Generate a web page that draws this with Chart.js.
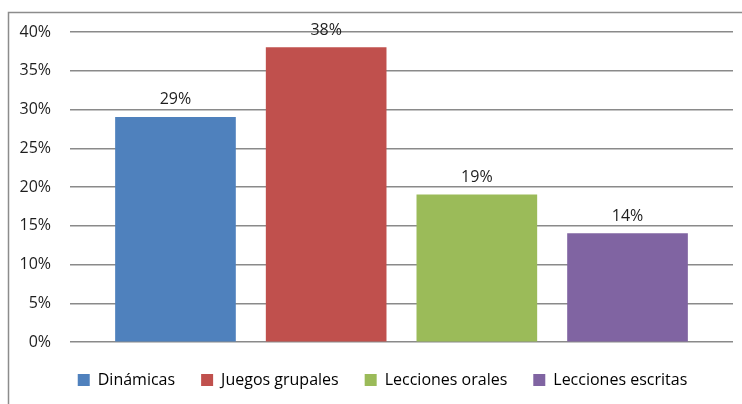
<!DOCTYPE html>
<html>
<head>
<meta charset="utf-8">
<script src="https://cdn.jsdelivr.net/npm/chart.js@4"></script>
<style>
  body { margin: 0; background: #fff; }
</style>
</head>
<body>
<canvas id="chart" width="742" height="404"></canvas>
<script>
// Categories and values (percent)
const categories = ['Dinámicas', 'Juegos grupales', 'Lecciones orales', 'Lecciones escritas'];
const values = [29, 38, 19, 14];
const barColors = ['#4F81BD', '#C0504D', '#9BBB59', '#8064A2'];
const yTicks = [0, 5, 10, 15, 20, 25, 30, 35, 40];

const fontFamily = '"Open Sans", Lato, sans-serif';
const textColor = '#1e1e1e';
const gridColor = '#8a8a8a';

// frame of the chart area (left and top edge only are visible)
const framePlugin = {
  id: 'frame',
  beforeDraw(chart) {
    const ctx = chart.ctx;
    ctx.save();
    ctx.strokeStyle = '#8c8c8c';
    ctx.lineWidth = 1.5;
    ctx.beginPath();
    ctx.moveTo(8.5, chart.height);
    ctx.lineTo(8.5, 12.5);
    ctx.lineTo(chart.width, 12.5);
    ctx.stroke();
    ctx.restore();
  }
};

// value labels above each bar
const valueLabels = {
  id: 'valueLabels',
  afterDatasetsDraw(chart) {
    const ctx = chart.ctx;
    const meta = chart.getDatasetMeta(0);
    ctx.save();
    ctx.font = '16px ' + fontFamily;
    ctx.fillStyle = textColor;
    ctx.textAlign = 'center';
    ctx.textBaseline = 'alphabetic';
    meta.data.forEach((bar, i) => {
      ctx.fillText(values[i] + '%', bar.x, bar.y - 13);
    });
    ctx.restore();
  }
};

// legend padding is wide between items, but we want a short legend box,
// and the legend sits a little right of the canvas centre
const legendTweak = {
  id: 'legendTweak',
  afterInit(chart) {
    const legend = chart.legend;
    const fit = legend.fit;
    legend.fit = function () {
      fit.call(this);
      this.height = 58;
    };
  },
  afterLayout(chart) {
    chart.legend.left += 16;
    chart.legend.right += 16;
  }
};

new Chart(document.getElementById('chart'), {
  type: 'bar',
  data: {
    datasets: [{
      data: values.map((v, i) => ({ x: i, y: v })),
      backgroundColor: barColors,
      borderWidth: 0,
      barThickness: 120
    }]
  },
  options: {
    responsive: false,
    animation: false,
    layout: { padding: { top: 32, right: 9, bottom: 0, left: 0 } },
    scales: {
      x: {
        type: 'linear',
        offset: false,
        min: -0.7,
        max: 3.7,
        ticks: { display: false },
        grid: { display: false },
        border: { display: false },
        afterFit(scale) { scale.height = 4; }
      },
      y: {
        min: 0,
        max: 40,
        afterBuildTicks(scale) { scale.ticks = yTicks.map(v => ({ value: v })); },
        ticks: {
          padding: 19,
          color: textColor,
          font: { family: fontFamily, size: 16 },
          callback: v => v + '%'
        },
        grid: { color: gridColor, lineWidth: 1.5, drawTicks: false },
        border: { display: false },
        afterFit(scale) { scale.width = 70; }
      }
    },
    plugins: {
      tooltip: { enabled: false },
      legend: {
        position: 'bottom',
        onClick: null,
        labels: {
          boxWidth: 12,
          boxHeight: 12,
          padding: 26,
          color: textColor,
          font: { family: fontFamily, size: 16 },
          generateLabels: () => categories.map((c, i) => ({
            text: c,
            fillStyle: barColors[i],
            strokeStyle: barColors[i],
            lineWidth: 0,
            hidden: false,
            index: i
          }))
        }
      }
    }
  },
  plugins: [framePlugin, valueLabels, legendTweak]
});
</script>
</body>
</html>
